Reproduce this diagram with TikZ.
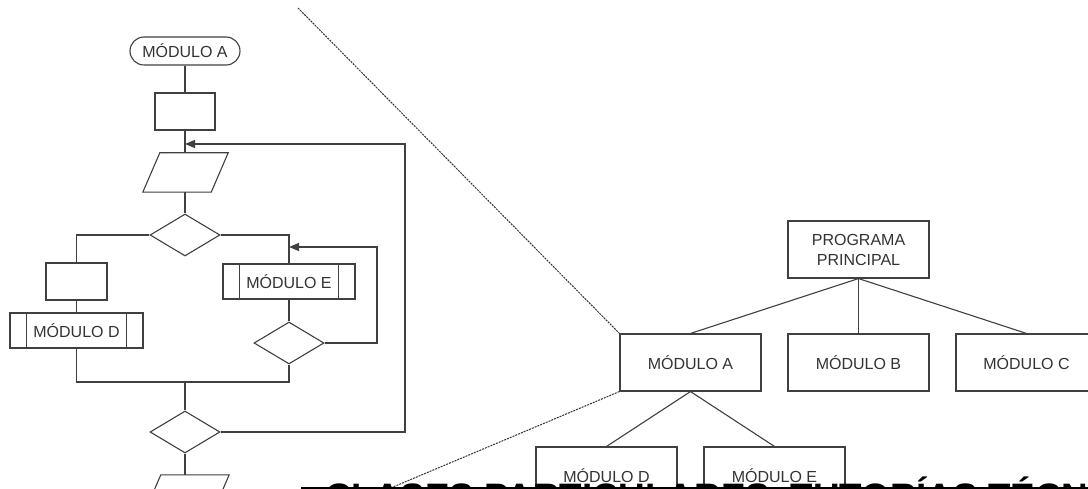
\documentclass[tikz,border=0pt]{standalone}
\usepackage{fontspec}
\setmainfont{Liberation Sans}
\usetikzlibrary{shapes.geometric,arrows.meta,calc}
\begin{document}
\begin{tikzpicture}[x=1pt,y=-1pt,
  conn/.style={draw=black!75, line width=1.1pt},
  lbl/.style={font=\fontsize{16}{20}\selectfont, text=black!80, align=center},
  box/.style={conn, rectangle, inner sep=0pt, lbl},
  term/.style={box, rounded corners=14pt, minimum width=110pt, minimum height=28pt},
  dia/.style={conn, diamond, inner sep=0pt, minimum width=70pt, minimum height=42pt},
  parabase/.style={rectangle, inner sep=0pt, minimum width=68pt, minimum height=39pt},
  arr/.style={conn, -{Triangle[length=10pt,width=8pt]}},
  zoomline/.style={draw=black!80, line width=1pt, dash pattern=on 2pt off 1pt},
  tbox/.style={box, minimum width=141pt, minimum height=57pt},
]
\useasboundingbox (0,0) rectangle (1088,489);
\clip (0,0) rectangle (1088,489);
\fill[white] (0,0) rectangle (1088,489);

% ---------- left flowchart ----------
\node[term] (tA) at (185,51) {MÓDULO A};
\node[box, minimum width=60pt, minimum height=37pt] (r1) at (185,111.5) {};
\node[parabase] (p1) at (185.5,172.5) {};
\node[dia] (d1) at (185,235) {};
\node[box, minimum width=61pt, minimum height=37pt] (r2) at (76.5,281.5) {};
\node[box, minimum width=133pt, minimum height=35pt] (mD) at (76.5,330.5) {MÓDULO D};
\node[box, minimum width=132pt, minimum height=35pt] (mE) at (289,281.5) {MÓDULO E};
\node[dia] (d2) at (289,343) {};
\node[dia] (d3) at (185,432) {};
\node[parabase] (p2) at (186.5,494.5) {};

\foreach \n in {p1,p2}{
  \draw[conn] ($(\n.north west)+(8.5,0)$) -- ($(\n.north east)+(8.5,0)$) -- ($(\n.south east)+(-8.5,0)$) -- ($(\n.south west)+(-8.5,0)$) -- cycle;
}
\foreach \n in {mD,mE}{
  \draw[conn] ([xshift=17pt]\n.north west) -- ([xshift=17pt]\n.south west);
  \draw[conn] ([xshift=-17pt]\n.north east) -- ([xshift=-17pt]\n.south east);
}

\coordinate (j1) at (185,144);
\coordinate (loop1) at (405,0);
\coordinate (j2) at (289,247);
\coordinate (loop2) at (377,0);
\coordinate (j3) at (185,382);

\draw[conn] (tA.south) -- (r1.north);
\draw[conn] (r1.south) -- (r1.south |- p1.north);
\draw[conn] (d1.north |- p1.south) -- (d1.north);
\draw[conn] (d1.west) -| (r2.north);
\draw[conn] (r2.south) -- (mD.north);
\draw[conn] (d1.east) -| (mE.north);
\draw[conn] (mE.south) -- (d2.north);
\draw[arr] (d2.east) -| (j2 -| loop2) -- (j2);
\draw[conn] (mD.south) |- (j3) -| (d2.south);
\draw[conn] (j3) -- (d3.north);
\draw[arr] (d3.east) -| (j1 -| loop1) -- (j1);
\draw[conn] (d3.south) -- (d3.south |- p2.north);

% ---------- right hierarchy ----------
\node[tbox] (pp) at (858.5,249.5) {PROGRAMA\\PRINCIPAL};
\node[tbox] (mA2) at (690.5,362.5) {MÓDULO A};
\node[tbox] (mB2) at (858.5,362.5) {MÓDULO B};
\node[tbox] (mC2) at (1026.5,362.5) {MÓDULO C};
\node[tbox] (mD2) at (606.5,475.5) {MÓDULO D};
\node[tbox] (mE2) at (774.5,475.5) {MÓDULO E};

\draw[conn] (pp.south) -- (mA2.north);
\draw[conn] (pp.south) -- (mB2.north);
\draw[conn] (pp.south) -- (mC2.north);
\draw[conn] (mA2.south) -- (mD2.north);
\draw[conn] (mA2.south) -- (mE2.north);

% ---------- zoom lines ----------
\coordinate (z1) at (298,8);
\coordinate (z2) at (374,495);
\draw[zoomline] (z1) -- (mA2.north west);
\draw[zoomline] (mA2.south west) -- (z2);

% ---------- bottom banner ----------
\coordinate (bl) at (301,487.5);
\coordinate (br) at (1090,487.5);
\draw[line width=2pt, black] (bl) -- (br);
\node[anchor=base west, inner sep=0pt, font=\fontsize{36.8}{40}\selectfont\bfseries, text=black] (banner) at (325,509) {CLASES PARTICULARES, TUTORÍAS TÉCNICAS};
\end{tikzpicture}
\end{document}
